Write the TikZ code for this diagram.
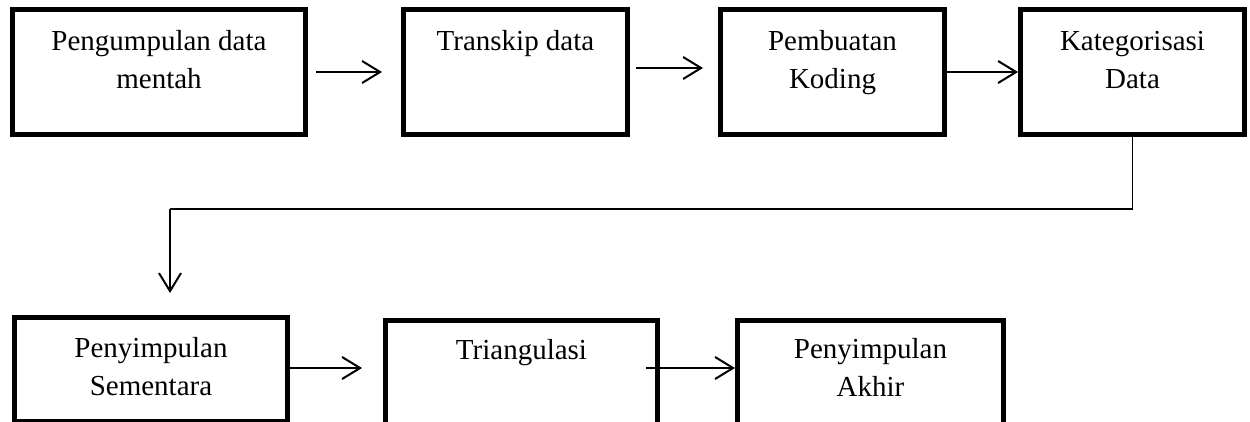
\documentclass[tikz,border=0pt]{standalone}
\usepackage{fontspec}
\setmainfont{Liberation Serif}
\usetikzlibrary{arrows.meta,positioning}
\begin{document}
\begin{tikzpicture}[x=1pt,y=-1pt,
  boxnode/.style={draw=black,line width=5pt,rectangle,inner sep=0pt,fill=none},
  lbl/.style={align=center,inner sep=0pt,anchor=north,font=\fontsize{29}{38}\selectfont},
  arr/.style={line width=2pt,-{Straight Barb[length=18pt,width=22pt]}},
  conn/.style={line width=1.8pt}]
\useasboundingbox (0,0) rectangle (1250,421);
% top row
\node[boxnode,minimum width=293pt,minimum height=125pt] (b1) at (159,72) {};
\node[boxnode,minimum width=224pt,minimum height=125pt] (b2) at (515.5,72) {};
\node[boxnode,minimum width=224pt,minimum height=125pt] (b3) at (832.5,72) {};
\node[boxnode,minimum width=224pt,minimum height=125pt] (b4) at (1132.5,72) {};
% bottom row
\node[boxnode,minimum width=273pt,minimum height=104pt] (b5) at (151,369.5) {};
\node[boxnode,minimum width=272pt,minimum height=140pt] (b6) at (521.5,390.5) {};
\node[boxnode,minimum width=266pt,minimum height=140pt] (b7) at (870.5,390.5) {};
% labels
\node[lbl,below=16.4pt of b1.north] (t1) {\strut Pengumpulan data\\\strut mentah};
\node[lbl,below=16.4pt of b2.north] (t2) {\strut Transkip data};
\node[lbl,below=16.4pt of b3.north] (t3) {\strut Pembuatan\\\strut Koding};
\node[lbl,below=16.4pt of b4.north] (t4) {\strut Kategorisasi\\\strut Data};
\node[lbl,below=15.4pt of b5.north] (t5) {\strut Penyimpulan\\\strut Sementara};
\node[lbl,below=14.4pt of b6.north] (t6) {\strut Triangulasi};
\node[lbl,below=13.4pt of b7.north] (t7) {\strut Penyimpulan\\\strut Akhir};
% arrows
\draw[arr,shorten <=8pt,shorten >=19pt] (b1.east) -- (b2.west);
\draw[arr,shorten <=6pt,shorten >=15pt] ([yshift=4pt]b2.east) -- ([yshift=4pt]b3.west);
\draw[arr] (b3.east) -- (b4.west);
\coordinate (c1) at (170,209);
\draw[conn] (b4.south) |- (c1);
\draw[arr,shorten >=22pt] (c1) -- (c1 |- b5.north);
\coordinate (r5) at ([yshift=1.5pt]b5.east);
\draw[arr,shorten >=21pt] (r5) -- (r5 -| b6.west);
\coordinate (r6) at ([yshift=22.5pt]b6.east);
\draw[arr,shorten <=-14pt] (r6) -- (r6 -| b7.west);
\end{tikzpicture}
\end{document}
